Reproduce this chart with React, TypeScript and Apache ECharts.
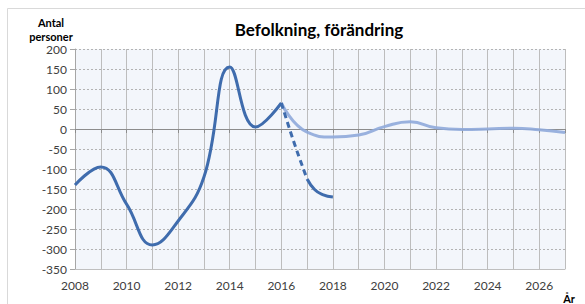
import React, { useEffect, useRef } from "react";
import * as echarts from "echarts";

const actualYears = [2008, 2009, 2010, 2011, 2012, 2013, 2014, 2015, 2016];
const actualValues = [-140, -95, -188, -290, -230, -120, 155, 5, 65];

const dashedYears = [2016, 2016.5, 2017];
const dashedValues = [65, -35, -125];

const tailYears = [2017, 2017.3, 2017.6, 2018];
const tailValues = [-125, -152, -164, -170];

const forecastYears = [2016, 2017, 2018, 2019, 2020, 2021, 2022, 2023, 2024, 2025, 2026, 2027];
const forecastValues = [65, -8, -20, -15, 6, 18, 3, -1, 0, 2, -2, -9];

const yTicks = { min: -350, max: 200, step: 50 };
const xRange = { min: 2008, max: 2027, step: 1 };

const pairs = (xs: number[], ys: number[]) => xs.map((x, i) => [x, ys[i]]);

const DARK = "#3F6CAD";
const LIGHT = "#8FAADA";
const FONT = "Lato, 'Noto Sans', sans-serif";

export default function App() {
  const ref = useRef<HTMLDivElement>(null);
  useEffect(() => {
    if (!ref.current) return;
    const chart = echarts.init(ref.current, undefined, { renderer: "svg" });
    chart.setOption({
      animation: false,
      backgroundColor: "#ffffff",
      grid: {
        left: 75,
        right: 20,
        top: 49,
        bottom: 35,
        show: true,
        backgroundColor: "#F3F6FB",
        borderWidth: 0,
      },
      xAxis: [
        {
          type: "value",
          min: xRange.min,
          max: xRange.max,
          interval: xRange.step,
          position: "bottom",
          axisLine: { show: true, onZero: false, lineStyle: { color: "#BFBFBF", width: 1 } },
          axisTick: { show: false },
          axisLabel: {
            formatter: (v: number) => (v % 2 === 0 ? String(v) : ""),
            color: "#404040",
            fontFamily: FONT,
            fontSize: 12,
            margin: 10,
            showMaxLabel: true,
            showMinLabel: true,
          },
          splitLine: { show: true, lineStyle: { color: "#BDBDBD", width: 1, type: "solid" } },
        },
        {
          type: "value",
          min: xRange.min,
          max: xRange.max,
          interval: xRange.step,
          position: "top",
          axisLine: { show: true, onZero: true, lineStyle: { color: "#8C8C8C", width: 1 } },
          axisTick: { show: true, inside: true, length: 4, lineStyle: { color: "#8C8C8C" } },
          axisLabel: { show: false },
          splitLine: { show: false },
        },
      ],
      yAxis: {
        type: "value",
        min: yTicks.min,
        max: yTicks.max,
        interval: yTicks.step,
        axisLine: { show: true, lineStyle: { color: "#A6A6A6", width: 1 } },
        axisTick: { show: true, length: 5, lineStyle: { color: "#A6A6A6" } },
        axisLabel: { color: "#404040", fontFamily: FONT, fontSize: 12, margin: 8 },
        splitLine: { show: true, lineStyle: { color: "#B3B3B3", width: 1, type: [2, 2] } },
      },
      series: [
        {
          type: "line",
          data: pairs(forecastYears, forecastValues),
          smooth: 0.5,
          showSymbol: false,
          lineStyle: { color: LIGHT, width: 3, opacity: 0.9 },
          z: 2,
        },
        {
          type: "line",
          data: pairs(actualYears, actualValues),
          smooth: 0.45,
          showSymbol: false,
          lineStyle: { color: DARK, width: 3 },
          z: 3,
        },
        {
          type: "line",
          data: pairs(dashedYears, dashedValues),
          smooth: 0.5,
          showSymbol: false,
          lineStyle: { color: DARK, width: 3, type: [6, 4] },
          z: 3,
        },
        {
          type: "line",
          data: pairs(tailYears, tailValues),
          smooth: 0.5,
          showSymbol: false,
          lineStyle: { color: DARK, width: 3 },
          z: 3,
        },
      ],
      graphic: [
        {
          type: "rect",
          shape: { x: 7.5, y: 8.5, width: 700, height: 400 },
          style: { fill: "none", stroke: "#D9D9D9", lineWidth: 1 },
          silent: true,
          z: -1,
        },
        {
          type: "text",
          x: 319,
          y: 29,
          style: {
            text: "Befolkning, förändring",
            font: `bold 17px ${FONT}`,
            fill: "#000000",
            textAlign: "center",
            textVerticalAlign: "middle",
          },
        },
        {
          type: "text",
          x: 51,
          y: 22,
          style: {
            text: "Antal",
            font: `bold 11px ${FONT}`,
            fill: "#000000",
            textAlign: "center",
            textVerticalAlign: "middle",
          },
        },
        {
          type: "text",
          x: 51,
          y: 36,
          style: {
            text: "personer",
            font: `bold 11px ${FONT}`,
            fill: "#000000",
            textAlign: "center",
            textVerticalAlign: "middle",
          },
        },
        {
          type: "text",
          x: 569,
          y: 298,
          style: {
            text: "År",
            font: `bold 11px ${FONT}`,
            fill: "#000000",
            textAlign: "center",
            textVerticalAlign: "middle",
          },
        },
      ],
    });
    return () => chart.dispose();
  }, []);
  return (
    <div
      ref={ref}
      style={{ position: "fixed", left: 0, top: 0, width: 585, height: 304 }}
    />
  );
}
